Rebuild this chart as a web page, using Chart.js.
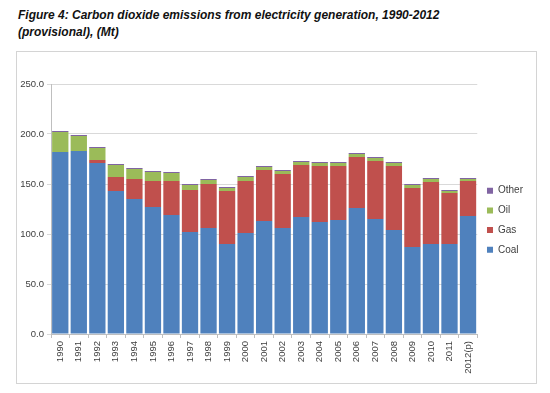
<!DOCTYPE html>
<html>
<head>
<meta charset="utf-8">
<script src="https://cdn.jsdelivr.net/npm/chart.js"></script>
<style>
  html, body { margin: 0; padding: 0; background: #fff; }
  body { width: 550px; height: 393px; position: relative; overflow: hidden; }
  #title { position: absolute; left: 18px; top: 7px; font-family: "Liberation Sans", Arial, sans-serif; font-weight: bold; font-style: italic; font-size: 12px; line-height: 17px; color: #111; }
  #frame { position: absolute; left: 16px; top: 51px; width: 519px; height: 331px; border: 1px solid #d4d4d4; }
  canvas { display: block; }
</style>
</head>
<body>
<div id="title">Figure 4: Carbon dioxide emissions from electricity generation, 1990-2012<br>(provisional), (Mt)</div>
<div id="frame"><canvas id="c" width="519" height="331"></canvas></div>
<script>
const years = ['1990','1991','1992','1993','1994','1995','1996','1997','1998','1999','2000','2001','2002','2003','2004','2005','2006','2007','2008','2009','2010','2011','2012(p)'];
const coal  = [182,183,171,143,135,127,119,102,106,90,101,113,106,117,112,114,126,115,104,87,90,90,118];
const gas   = [0,0,3,14,20,26,34,42,44,53,52,51,54,52,56,54,51,58,64,59,62,51,35];
const oil   = [20,15,12,12,10,9,8,5,4,3,4,3,3,3,3,3,3,3,3,3,3,2,2];
const other = [1,1,1,1,1,1,1,1,1,1,1,1,1,1,1,1,1,1,1,1,1,1,1];
const yTicks = [0,50,100,150,200,250];

const font = { family: '"Liberation Sans", Arial, sans-serif', size: 9.5 };
const ds = (label, data, color) => ({ label, data, backgroundColor: color, borderWidth: 0, barPercentage: 0.88, categoryPercentage: 1 });

new Chart(document.getElementById('c'), {
  type: 'bar',
  data: {
    labels: years,
    datasets: [
      ds('Coal', coal, '#4f81bd'),
      ds('Gas', gas, '#c0504d'),
      ds('Oil', oil, '#9bbb59'),
      ds('Other', other, '#8064a2')
    ]
  },
  options: {
    responsive: false,
    animation: false,
    layout: { padding: { top: 32, right: 3, bottom: 0, left: 0 } },
    plugins: {
      tooltip: { enabled: false },
      legend: {
        position: 'right',
        align: 'start',
        fullSize: false,
        reverse: true,
        title: { display: true, text: '', padding: { top: 80, bottom: 0 }, font: { size: 10 } },
        labels: { boxWidth: 6, boxHeight: 6, padding: 9.7, color: '#404040', font: { family: font.family, size: 10 } }
      }
    },
    scales: {
      x: {
        stacked: true,
        grid: { display: true, drawOnChartArea: false, offset: true, color: '#bfbfbf', tickLength: 4 },
        border: { color: '#bfbfbf' },
        ticks: { autoSkip: false, maxRotation: 90, minRotation: 90, padding: 3, color: '#404040', font },
        afterFit: s => { s.height = 49; }
      },
      y: {
        stacked: true,
        min: 0, max: 250,
        afterBuildTicks: s => { s.ticks = yTicks.map(v => ({ value: v })); },
        grid: { color: '#d9d9d9', tickLength: 4 },
        border: { color: '#bfbfbf' },
        ticks: { padding: 3, color: '#404040', font, callback: v => Number(v).toFixed(1) },
        afterFit: s => { s.width = 34; }
      }
    }
  }
});
</script>
</body>
</html>
